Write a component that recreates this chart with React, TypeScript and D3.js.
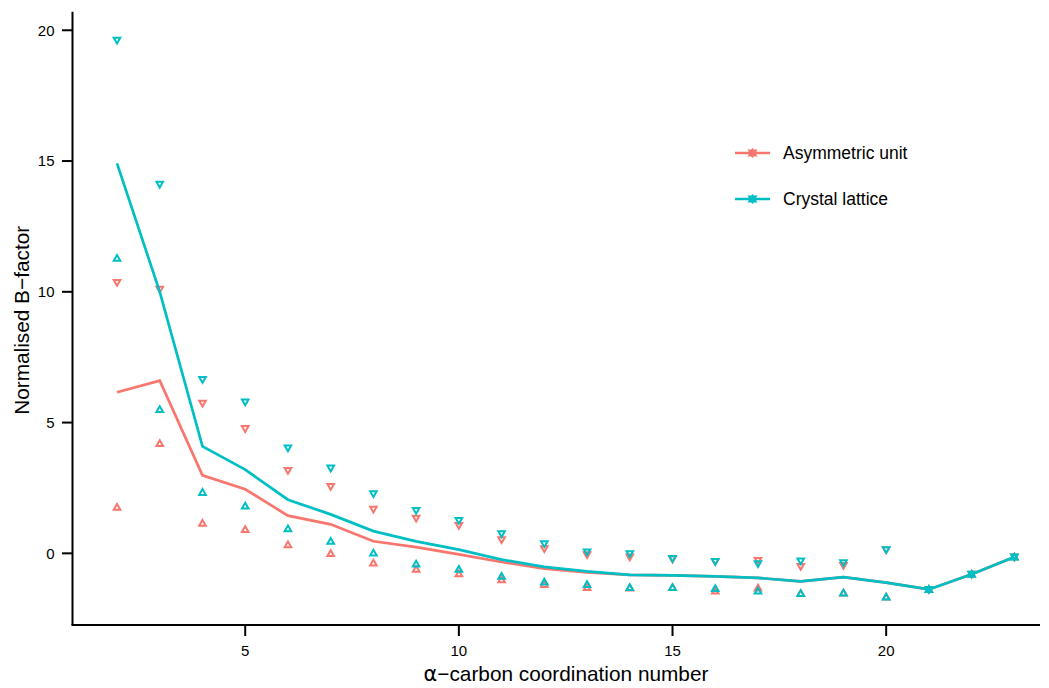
import * as d3 from 'd3';

// coordination numbers
const coord = [2, 3, 4, 5, 6, 7, 8, 9, 10, 11, 12, 13, 14, 15, 16, 17, 18, 19, 20, 21, 22, 23];

// asymmetric unit: mean, upper and lower
const asymMean = [6.16, 6.6, 2.98, 2.45, 1.44, 1.11, 0.46, 0.24, -0.04, -0.33, -0.59, -0.73, -0.82, -0.84, -0.88, -0.94, -1.07, -0.91, -1.12, -1.38, -0.8, -0.14];
const asymUpper = [10.36, 10.1, 5.74, 4.77, 3.17, 2.56, 1.69, 1.34, 1.07, 0.52, 0.18, -0.05, -0.14, -0.22, -0.31, -0.27, -0.5, -0.46, 0.14, -1.38, -0.8, -0.14];
const asymLower = [1.76, 4.2, 1.15, 0.91, 0.33, -0.01, -0.37, -0.61, -0.78, -1.01, -1.19, -1.31, -1.33, -1.31, -1.44, -1.33, -1.54, -1.52, -1.67, -1.38, -0.8, -0.14];

// crystal lattice
const crystMean = [14.91, 10.0, 4.09, 3.2, 2.05, 1.49, 0.85, 0.46, 0.14, -0.24, -0.52, -0.69, -0.82, -0.84, -0.88, -0.94, -1.07, -0.91, -1.12, -1.38, -0.8, -0.14];
const crystUpper = [19.62, 14.11, 6.65, 5.79, 4.03, 3.26, 2.28, 1.64, 1.26, 0.75, 0.37, 0.05, -0.01, -0.2, -0.31, -0.4, -0.29, -0.36, 0.14, -1.38, -0.8, -0.14];
const crystLower = [11.28, 5.5, 2.33, 1.81, 0.94, 0.46, 0.01, -0.41, -0.61, -0.88, -1.1, -1.19, -1.31, -1.31, -1.35, -1.44, -1.54, -1.52, -1.67, -1.38, -0.8, -0.14];

const xTicks = [5, 10, 15, 20];
const yTicks = [0, 5, 10, 15, 20];

const series = [
  { name: 'Asymmetric unit', color: '#F8766D', mean: asymMean, upper: asymUpper, lower: asymLower },
  { name: 'Crystal lattice', color: '#00BFC4', mean: crystMean, upper: crystUpper, lower: crystLower },
];

const W = 1049;
const H = 688;
const left = 72.5;
const right = 1040;
const top = 11.7;
const bottom = 625;

const font = '"Liberation Sans", Arial, sans-serif';

function triUp(cx: number, cy: number, s = 3.3) {
  return `M${cx},${cy - s}L${cx + s},${cy + s * 0.75}L${cx - s},${cy + s * 0.75}Z`;
}
function triDown(cx: number, cy: number, s = 3.3) {
  return `M${cx},${cy + s}L${cx + s},${cy - s * 0.75}L${cx - s},${cy - s * 0.75}Z`;
}

export default function App() {
  const x = d3.scaleLinear().domain([0.958, 23.6]).range([left, right]);
  const y = d3.scaleLinear().domain([-2.74, 20.71]).range([bottom, top]);

  const line = d3.line<number>()
    .x((_, i) => x(coord[i]))
    .y(d => y(d));

  return (
    <svg width={W} height={H} style={{ position: 'absolute', left: 0, top: 0, background: '#fff' }}>
      {series.map(s => (
        <g key={s.name}>
          <path d={line(s.mean) || ''} fill="none" stroke={s.color} strokeWidth={2.7} />
          {coord.map((c, i) => (
            <g key={c} fill="none" stroke={s.color} strokeWidth={2}>
              <path d={triDown(x(c), y(s.upper[i]))} />
              <path d={triUp(x(c), y(s.lower[i]))} />
            </g>
          ))}
        </g>
      ))}

      {/* axes */}
      <line x1={left} x2={left} y1={top} y2={bottom} stroke="#000" strokeWidth={2} />
      <line x1={left - 1} x2={right} y1={bottom} y2={bottom} stroke="#000" strokeWidth={2} />
      {yTicks.map(t => (
        <g key={t}>
          <line x1={left - 10.5} x2={left} y1={y(t)} y2={y(t)} stroke="#000" strokeWidth={2} />
          <text x={left - 18} y={y(t)} dy="0.35em" textAnchor="end" fontFamily={font} fontSize={15}>{t}</text>
        </g>
      ))}
      {xTicks.map(t => (
        <g key={t}>
          <line x1={x(t)} x2={x(t)} y1={bottom} y2={bottom + 11} stroke="#000" strokeWidth={2} />
          <text x={x(t)} y={651} dy="0.35em" textAnchor="middle" fontFamily={font} fontSize={15}>{t}</text>
        </g>
      ))}

      <text x={566} y={674} dy="0.35em" textAnchor="middle" fontFamily={font} fontSize={20.8}>
        <tspan fontFamily='"DejaVu Sans", sans-serif'>α</tspan>−carbon coordination number
      </text>
      <text transform={`translate(22,${(top + bottom) / 2 + 2}) rotate(-90)`} dy="0.35em" textAnchor="middle" fontFamily={font} fontSize={20.8}>
        Normalised B−factor
      </text>

      {/* legend */}
      {series.map((s, i) => {
        const ly = 153 + i * 46;
        return (
          <g key={s.name}>
            <line x1={735} x2={770} y1={ly} y2={ly} stroke={s.color} strokeWidth={2.7} />
            <g fill="none" stroke={s.color} strokeWidth={2}>
              <path d={triUp(752.5, ly)} />
              <path d={triDown(752.5, ly)} />
            </g>
            <text x={783} y={ly} dy="0.35em" fontFamily={font} fontSize={17.5}>{s.name}</text>
          </g>
        );
      })}
    </svg>
  );
}
